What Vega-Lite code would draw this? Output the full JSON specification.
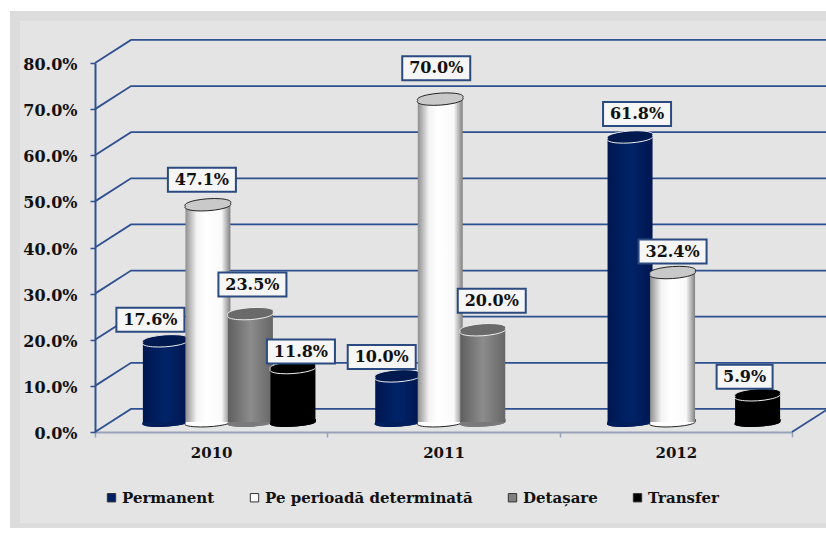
{
"$schema":"https://vega.github.io/schema/vega-lite/v6.json",
"width":811,"height":512,
"autosize":{"type":"none"},
"padding":{"left":15,"top":16,"right":0,"bottom":0},
"background":"#ffffff",
"view":{"fill":"#e4e4e4","stroke":"#dcdcdc","strokeWidth":10,"strokeDash":[811,512,1323]},
"config":{"text":{"font":"DejaVu Serif","fontWeight":"bold","fontSize":16,"fill":"#111111"}},
"datasets":{
"bars":[
{"year":"2010","series":"Permanent","value":0.176},
{"year":"2010","series":"Pe perioadă determinată","value":0.471},
{"year":"2010","series":"Detașare","value":0.235},
{"year":"2010","series":"Transfer","value":0.118},
{"year":"2011","series":"Permanent","value":0.10},
{"year":"2011","series":"Pe perioadă determinată","value":0.70},
{"year":"2011","series":"Detașare","value":0.20},
{"year":"2012","series":"Permanent","value":0.618},
{"year":"2012","series":"Pe perioadă determinată","value":0.324},
{"year":"2012","series":"Transfer","value":0.059}
],
"wall":[
{"line":"0","along":0,"level":0},{"line":"0","along":0.155,"level":0.05},{"line":"0","along":3.15,"level":0.05},
{"line":"1","along":0,"level":0.1},{"line":"1","along":0.155,"level":0.15},{"line":"1","along":3.15,"level":0.15},
{"line":"2","along":0,"level":0.2},{"line":"2","along":0.155,"level":0.25},{"line":"2","along":3.15,"level":0.25},
{"line":"3","along":0,"level":0.3},{"line":"3","along":0.155,"level":0.35},{"line":"3","along":3.15,"level":0.35},
{"line":"4","along":0,"level":0.4},{"line":"4","along":0.155,"level":0.45},{"line":"4","along":3.15,"level":0.45},
{"line":"5","along":0,"level":0.5},{"line":"5","along":0.155,"level":0.55},{"line":"5","along":3.15,"level":0.55},
{"line":"6","along":0,"level":0.6},{"line":"6","along":0.155,"level":0.65},{"line":"6","along":3.15,"level":0.65},
{"line":"7","along":0,"level":0.7},{"line":"7","along":0.155,"level":0.75},{"line":"7","along":3.15,"level":0.75},
{"line":"8","along":0,"level":0.8},{"line":"8","along":0.155,"level":0.85},{"line":"8","along":3.15,"level":0.85},
{"line":"floor","along":3,"level":0},{"line":"floor","along":3.155,"level":0.05}
]},
"resolve":{"scale":{"x":"independent","y":"independent","xOffset":"independent","color":"independent","shape":"independent"},"axis":{"x":"independent","y":"independent"}},
"layer":[
{"data":{"name":"wall"},
 "mark":{"type":"line","color":"#2f5090","strokeWidth":1.8,"clip":false},
 "encoding":{
  "x":{"field":"along","type":"quantitative","scale":{"domain":[0,3],"range":[80,777],"nice":false,"zero":false},"axis":null},
  "y":{"field":"level","type":"quantitative","scale":{"domain":[0,0.8],"range":[416,47],"nice":false},"axis":null},
  "detail":{"field":"line"}}},
{"data":{"name":"bars"},
 "mark":{"type":"point","opacity":0},
 "encoding":{
  "x":{"field":"year","type":"nominal","scale":{"domain":["2010","2011","2012"],"range":[80,777],"paddingInner":0,"paddingOuter":0},
   "axis":{"title":null,"orient":"bottom","offset":-96,"labelAngle":0,"labelFont":"DejaVu Serif","labelFontWeight":"bold","labelFontSize":15,"labelColor":"#111111","labelPadding":8,"domainColor":"#97a1b8","domainWidth":2,"tickColor":"#97a1b8","tickWidth":1.5,"tickSize":5,"tickBand":"extent","grid":false}},
  "y":{"field":"value","type":"quantitative","scale":{"domain":[0,0.8],"range":[416,47],"nice":false},
   "axis":{"title":null,"orient":"left","offset":-80,"values":[0,0.1,0.2,0.3,0.4,0.5,0.6,0.7,0.8],"format":".1%","labelFont":"DejaVu Serif","labelFontWeight":"bold","labelFontSize":16,"labelColor":"#111111","labelPadding":13,"labelOffset":1.5,"domainColor":"#2f5090","domainWidth":2,"tickColor":"#2f5090","tickWidth":1.5,"tickSize":5,"grid":false}}}},
{"data":{"name":"bars"},
 "encoding":{
  "x":{"field":"year","type":"nominal","axis":null,"scale":{"domain":["2010","2011","2012"],"range":[98,795],"paddingInner":0.268,"paddingOuter":0.134}},
  "xOffset":{"field":"series","type":"nominal","scale":{"domain":["Permanent","Pe perioadă determinată","Detașare","Transfer"]}},
  "y":{"field":"value","type":"quantitative","axis":null,"stack":null,"scale":{"domain":[0,0.8],"range":[406,37],"nice":false}}},
 "layer":[
  {"mark":{"type":"point","filled":true,"size":4,"opacity":1,"shape":"M-22.5,1A23,4 -3 1 0 22.5,-1A23,4 -3 1 0 -22.5,1Z"},
   "encoding":{"y":{"datum":0,"type":"quantitative"},
    "color":{"field":"series","type":"nominal","scale":{"domain":["Permanent","Pe perioadă determinată","Detașare","Transfer"],"range":["#002060","#ffffff","#808080","#000000"]},
     "legend":{"title":null,"orient":"none","legendX":89,"legendY":474,"direction":"horizontal","columns":4,"columnPadding":32,"symbolType":"square","symbolSize":70,"symbolOpacity":1,"symbolStrokeColor":"#333333","symbolStrokeWidth":1,"labelFont":"DejaVu Serif","labelFontWeight":"bold","labelFontSize":15,"labelColor":"#111111","labelLimit":300,"labelOffset":3}}}},

  {"transform":[{"filter":"datum.series==='Permanent'"}],
   "layer":[
    {"mark":{"type":"point","filled":true,"size":4,"opacity":1,"fill":"#001d5c","shape":"M-22.5,1A23,4 -3 1 0 22.5,-1A23,4 -3 1 0 -22.5,1Z"},"encoding":{"y":{"datum":0,"type":"quantitative"}}},
    {"mark":{"type":"bar","width":45,"fill":{"gradient":"linear","x1":0,"x2":1,"y1":0,"y2":0,"stops":[{"offset":0,"color":"#001650"},{"offset":0.5,"color":"#002468"},{"offset":1,"color":"#001650"}]}}},
    {"mark":{"type":"point","filled":true,"size":4,"opacity":1,"fill":"#001a50","stroke":"#eeeeee","strokeWidth":1,"shape":"M-22.5,1.5A23,5 -4 1 0 22.5,-1.5A23,5 -4 1 0 -22.5,1.5Z"}}
   ]},
  {"transform":[{"filter":"datum.series==='Pe perioadă determinată'"}],
   "layer":[
    {"mark":{"type":"point","filled":true,"size":4,"opacity":1,"fill":"#ffffff","stroke":"#222222","strokeWidth":1,"shape":"M-22.5,1A23,4 -3 1 0 22.5,-1A23,4 -3 1 0 -22.5,1Z"},"encoding":{"y":{"datum":0,"type":"quantitative"}}},
    {"mark":{"type":"bar","width":45,"fill":{"gradient":"linear","x1":0,"x2":1,"y1":0,"y2":0,"stops":[{"offset":0,"color":"#8f8f8f"},{"offset":0.25,"color":"#f4f4f4"},{"offset":0.45,"color":"#ffffff"},{"offset":0.8,"color":"#fafafa"},{"offset":1,"color":"#808080"}]}}},
    {"mark":{"type":"point","filled":true,"size":4,"opacity":1,"fill":"#c9c9c9","stroke":"#222222","strokeWidth":1,"shape":"M-22.5,1.5A23,5 -4 1 0 22.5,-1.5A23,5 -4 1 0 -22.5,1.5Z"}}
   ]},
  {"transform":[{"filter":"datum.series==='Detașare'"}],
   "layer":[
    {"mark":{"type":"point","filled":true,"size":4,"opacity":1,"fill":"#7a7a7a","shape":"M-22.5,1A23,4 -3 1 0 22.5,-1A23,4 -3 1 0 -22.5,1Z"},"encoding":{"y":{"datum":0,"type":"quantitative"}}},
    {"mark":{"type":"bar","width":45,"fill":{"gradient":"linear","x1":0,"x2":1,"y1":0,"y2":0,"stops":[{"offset":0,"color":"#5f5f5f"},{"offset":0.5,"color":"#8c8c8c"},{"offset":1,"color":"#666666"}]}}},
    {"mark":{"type":"point","filled":true,"size":4,"opacity":1,"fill":"#6a6a6a","stroke":"#f0f0f0","strokeWidth":1,"shape":"M-22.5,1.5A23,5 -4 1 0 22.5,-1.5A23,5 -4 1 0 -22.5,1.5Z"}}
   ]},
  {"transform":[{"filter":"datum.series==='Transfer'"}],
   "layer":[
    {"mark":{"type":"point","filled":true,"size":4,"opacity":1,"fill":"#000000","shape":"M-22.5,1A23,4 -3 1 0 22.5,-1A23,4 -3 1 0 -22.5,1Z"},"encoding":{"y":{"datum":0,"type":"quantitative"}}},
    {"mark":{"type":"bar","width":45,"fill":"#000000"}},
    {"mark":{"type":"point","filled":true,"size":4,"opacity":1,"fill":"#000000","stroke":"#f0f0f0","strokeWidth":1,"shape":"M-22.5,1.5A23,5 -4 1 0 22.5,-1.5A23,5 -4 1 0 -22.5,1.5Z"}}
   ]},

  {"mark":{"type":"point","filled":true,"size":4,"opacity":1,"fill":"#f6f6f6","stroke":"#2b4a80","strokeWidth":2},
   "encoding":{"shape":{"field":"value","type":"nominal","legend":null,"scale":{
     "domain":[0.176,0.471,0.235,0.118,0.1,0.7,0.2,0.618,0.324,0.059],
     "range":["M-49,-33h68v24h-68z","M-40,-37h68v24h-68z","M-32,-41h68v24h-68z","M-26,-28h68v24h-68z","M-50,-31h68v24h-68z","M-38,-43h68v24h-68z","M-25,-41h68v24h-68z","M-27,-35h68v24h-68z","M-34,-33h68v24h-68z","M-41,-30h56v24h-56z"]}}}},

  {"transform":[{"filter":"datum.value===0.176"}],"mark":{"type":"text","dx":-15,"dy":-21},"encoding":{"text":{"field":"value","format":".1%"}}},
  {"transform":[{"filter":"datum.value===0.471"}],"mark":{"type":"text","dx":-6,"dy":-25},"encoding":{"text":{"field":"value","format":".1%"}}},
  {"transform":[{"filter":"datum.value===0.235"}],"mark":{"type":"text","dx":2,"dy":-29},"encoding":{"text":{"field":"value","format":".1%"}}},
  {"transform":[{"filter":"datum.value===0.118"}],"mark":{"type":"text","dx":8,"dy":-16},"encoding":{"text":{"field":"value","format":".1%"}}},
  {"transform":[{"filter":"datum.value===0.1"}],"mark":{"type":"text","dx":-16,"dy":-19},"encoding":{"text":{"field":"value","format":".1%"}}},
  {"transform":[{"filter":"datum.value===0.7"}],"mark":{"type":"text","dx":-4,"dy":-31},"encoding":{"text":{"field":"value","format":".1%"}}},
  {"transform":[{"filter":"datum.value===0.2"}],"mark":{"type":"text","dx":9,"dy":-29},"encoding":{"text":{"field":"value","format":".1%"}}},
  {"transform":[{"filter":"datum.value===0.618"}],"mark":{"type":"text","dx":7,"dy":-23},"encoding":{"text":{"field":"value","format":".1%"}}},
  {"transform":[{"filter":"datum.value===0.324"}],"mark":{"type":"text","dx":0,"dy":-21},"encoding":{"text":{"field":"value","format":".1%"}}},
  {"transform":[{"filter":"datum.value===0.059"}],"mark":{"type":"text","dx":-13,"dy":-18},"encoding":{"text":{"field":"value","format":".1%"}}}
 ]}
]
}
